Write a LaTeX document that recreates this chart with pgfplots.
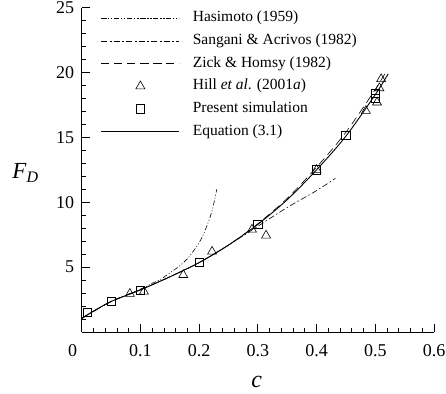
\documentclass[border=0pt]{standalone}
\usepackage{fontspec}
\setmainfont{Liberation Serif}
\usepackage{pgfplots}
\pgfplotsset{compat=1.18}

% Drag on an array of spheres versus solid volume fraction
\pgfplotsset{
  legend image code/.code={%
    \draw[mark repeat=2,mark phase=2,#1]
      plot coordinates {(0pt,0pt) (39pt,0pt) (78pt,0pt)};},
}

\begin{document}
\begin{tikzpicture}
\begin{axis}[
  name=ax,
  scale only axis,
  width=352.3pt, height=324.3pt,
  xmin=0, xmax=0.6, ymin=0, ymax=25,
  axis x line*=bottom, axis y line*=left,
  axis line style={line width=0.9pt},
  tick align=inside,
  major tick length=8pt, minor tick length=4pt,
  every tick/.style={black, line width=0.8pt},
  xtick={0,0.1,0.2,0.3,0.4,0.5,0.6},
  xticklabels={\makebox[0pt][r]{0\hspace{4.5pt}},0.1,0.2,0.3,0.4,0.5,0.6},
  minor xtick={0.02,0.04,...,0.58},
  ytick={0,5,10,15,20,25},
  yticklabels={,5,10,15,20,25},
  minor ytick={1,2,3,4,6,7,8,9,11,12,13,14,16,17,18,19,21,22,23,24},
  /pgf/number format/assume math mode=true,
  ticklabel style={font=\fontsize{18}{20}\selectfont},
  xticklabel style={yshift=-8.5pt},
  yticklabel style={xshift=-4pt},
  xlabel={\textit{c}},
  xlabel style={font=\fontsize{24}{26}\selectfont, at={(axis description cs:0.497,-0.153)}, anchor=center},
  ylabel={\textit{F}\raisebox{-4.5pt}{\fontsize{16}{16}\selectfont\textit{D}}},
  ylabel style={font=\fontsize{23}{25}\selectfont, rotate=-90, at={(axis description cs:-0.16,0.49)}, anchor=center},
  legend style={draw=none, fill=none, inner sep=0pt,
    at={(axis description cs:0.054,1.0)}, anchor=north west, yshift=-2pt,
    font=\fontsize{15.5}{18}\selectfont,
    nodes={text height=11pt, text depth=3.5pt, inner sep=1pt},
    row sep=6.2pt, column sep=12pt},
  legend cell align=left,
]
% Hasimoto (1959)
\addplot[black, line width=0.6pt, smooth,
  dash pattern=on 5pt off 2pt on 1pt off 2pt on 1pt off 2pt]
  coordinates {(0,1.05) (0.05,2.35) (0.1,3.3) (0.12,3.75) (0.134,4.05)
  (0.15,4.55) (0.167,5.1) (0.18,5.65) (0.196,6.6) (0.205,7.3) (0.213,8.15)
  (0.219,8.9) (0.224,9.7) (0.23,11.0)};
\addlegendentry{Hasimoto (1959)}
% Sangani & Acrivos (1982)
\addplot[black, line width=0.6pt, smooth,
  dash pattern=on 6pt off 2.5pt on 1.5pt off 2.5pt]
  coordinates {(0,1.05) (0.05,2.35) (0.1,3.25) (0.15,4.25) (0.2,5.35)
  (0.25,6.7) (0.3,8.15) (0.35,9.6) (0.4,10.9) (0.432,11.85)};
\addlegendentry{Sangani \& Acrivos (1982)}
% Zick & Homsy (1982)
\addplot[black, line width=0.6pt, smooth, dash pattern=on 8pt off 5pt]
  coordinates {(0,1.05) (0.05,2.35) (0.1,3.25) (0.15,4.25) (0.2,5.35)
  (0.25,6.7) (0.3,8.35) (0.35,10.3) (0.4,12.7) (0.45,15.4) (0.5,18.7)
  (0.52,20.2)};
\addlegendentry{Zick \& Homsy (1982)}
% Hill et al. (2001a)
\addplot[only marks, mark=triangle, mark size=5.2pt, black, line width=0.6pt]
  coordinates {(0.082,2.95) (0.106,3.12) (0.173,4.4) (0.222,6.2) (0.29,7.9)
  (0.314,7.44) (0.4,12.5) (0.484,17.05) (0.503,17.7) (0.507,18.8) (0.51,19.5)};
\addlegendentry{Hill \textit{et al}. (2001\textit{a})}
% Present simulation
\addplot[only marks, mark=square, mark size=4.2pt, black, line width=0.6pt]
  coordinates {(0.01,1.5) (0.05,2.35) (0.1,3.2) (0.2,5.35) (0.3,8.3)
  (0.4,12.5) (0.45,15.15) (0.5,18.0) (0.5,18.4)};
\addlegendentry{Present simulation}
% Equation (3.1)
\addplot[black, line width=0.9pt, smooth]
  coordinates {(0,1.05) (0.02,1.6) (0.05,2.35) (0.1,3.25) (0.15,4.25)
  (0.2,5.35) (0.25,6.7) (0.3,8.3) (0.35,10.2) (0.4,12.5) (0.45,15.1)
  (0.5,18.3) (0.522,19.9)};
\addlegendentry{Equation (3.1)}
\end{axis}
\pgfresetboundingbox
\path ([xshift=-81.7pt,yshift=-61pt]ax.south west) rectangle ([xshift=12pt,yshift=7.7pt]ax.north east);
\end{tikzpicture}
\end{document}
